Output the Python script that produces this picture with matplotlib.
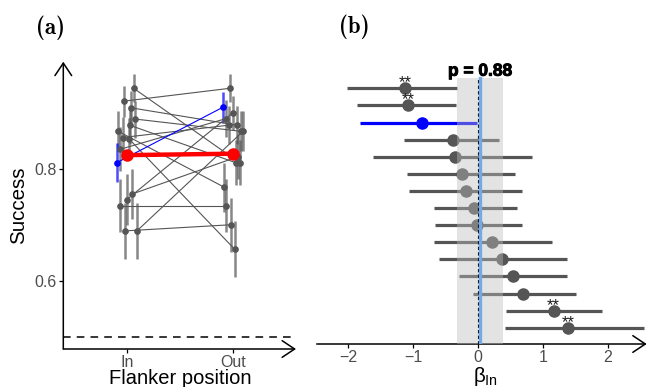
import matplotlib
matplotlib.use('Agg')
import matplotlib.pyplot as plt
import matplotlib.patheffects as pe

plt.rcParams['font.family'] = ['Liberation Sans', 'DejaVu Sans']
plt.rcParams['mathtext.fontset'] = 'custom'
plt.rcParams['mathtext.rm'] = 'Liberation Sans'

# (a) success per participant, In vs Out flanker position
IN_SUCCESS = [0.944, 0.921, 0.909, 0.889, 0.878, 0.867, 0.856, 0.854, 0.835, 0.811, 0.755, 0.745, 0.734, 0.689, 0.689]
OUT_SUCCESS = [0.811, 0.944, 0.878, 0.867, 0.811, 0.767, 0.878, 0.656, 0.890, 0.910, 0.822, 0.900, 0.734, 0.700, 0.867]
IN_ERR = [0.025, 0.028, 0.030, 0.033, 0.034, 0.036, 0.037, 0.037, 0.039, 0.035, 0.045, 0.046, 0.047, 0.050, 0.050]
OUT_ERR = [0.040, 0.025, 0.034, 0.036, 0.040, 0.044, 0.034, 0.050, 0.033, 0.028, 0.040, 0.030, 0.047, 0.048, 0.036]
DODGE = [0.063, -0.031, 0.041, 0.078, 0.025, -0.082, -0.041, 0.016, -0.063, -0.097, 0.050, -0.003, -0.069, -0.016, 0.094]
HIGHLIGHT = 9  # participant drawn in blue
MEAN_SUCCESS = [0.8245, 0.827]
POSITIONS = ['In', 'Out']
CHANCE = 0.5

# (b) beta_In per participant (sorted), 95% CI
BETA = [-1.13, -1.08, -0.87, -0.39, -0.36, -0.25, -0.19, -0.06, -0.02, 0.21, 0.36, 0.53, 0.69, 1.16, 1.39]
BETA_LO = [-2.02, -1.87, -1.82, -1.14, -1.62, -1.10, -1.07, -0.69, -0.66, -0.69, -0.60, -0.29, -0.08, 0.43, 0.41]
BETA_HI = [-0.33, -0.34, -0.02, 0.32, 0.82, 0.56, 0.68, 0.59, 0.67, 1.13, 1.36, 1.37, 1.50, 1.91, 2.55]
SIGNIF = [True, True, False, False, False, False, False, False, False, False, False, False, False, True, True]
BETA_HIGHLIGHT = 2
GROUP_MEAN = 0.03
GROUP_CI = (-0.33, 0.38)
P_TEXT = 'p = 0.88'

W, H = 647, 387
GREY = '#555555'
TICK_COL = '#4D4D4D'


def box(l, t, r, b):
    return [l / W, 1 - b / H, (r - l) / W, (b - t) / H]


def arrow_axes(ax, vertical=True):
    style = '->,head_length=0.45,head_width=0.3'
    kw = dict(xycoords='axes fraction', textcoords='axes fraction',
              arrowprops=dict(arrowstyle=style, lw=1.1, color='black',
                              shrinkA=0, shrinkB=0, mutation_scale=20))
    ax.annotate('', xy=(1, 0), xytext=(0, 0), **kw)
    if vertical:
        ax.annotate('', xy=(0, 1), xytext=(0, 0), **kw)


fig = plt.figure(figsize=(W / 100, H / 100), dpi=100)

# ---------- panel (a)
ax = fig.add_axes(box(63.3, 61.7, 296, 349))
for i in range(len(IN_SUCCESS)):
    col = 'blue' if i == HIGHLIGHT else GREY
    xs = [1 + DODGE[i], 2 + DODGE[i]]
    ys = [IN_SUCCESS[i], OUT_SUCCESS[i]]
    ax.errorbar(xs, ys, yerr=[IN_ERR[i], OUT_ERR[i]], fmt='none',
                ecolor=col, elinewidth=1.8, alpha=0.7, zorder=2)
    ax.plot(xs, ys, color=col, lw=0.8, marker='o', ms=3.8, zorder=3 + (i == HIGHLIGHT))
ax.plot([1, 2], MEAN_SUCCESS, color='red', lw=3.2, marker='o', ms=8, zorder=6)
ax.axhline(CHANCE, color='black', lw=1.1, ls=(0, (5, 4)))
ax.set_xlim(0.399, 2.594)
ax.set_ylim(0.4777, 0.9916)
ax.set_xticks([1, 2])
ax.set_xticklabels(POSITIONS)
ax.set_yticks([0.6, 0.8])
ax.set_yticklabels(['0.6', '0.8'])
ax.tick_params(labelsize=11.5, labelcolor=TICK_COL, length=3, width=0.9, pad=2)
ax.tick_params(axis='x', pad=1.5)
for s in ax.spines.values():
    s.set_visible(False)
arrow_axes(ax)

fig.text(19 / W, 1 - 205.5 / H, 'Success', rotation=90, ha='center', va='center', fontsize=14.8)
fig.text(180 / W, 1 - 384 / H, 'Flanker position', ha='center', va='baseline', fontsize=14.5)
fig.text(51 / W, 1 - 28 / H, '(a)', ha='center', va='center', fontsize=16.5,
         family='cmb10')

# ---------- panel (b)
bx = fig.add_axes(box(316.7, 54, 646.7, 344))
n = len(BETA)
rows = [n - i for i in range(n)]
for i in range(n):
    col = 'blue' if i == BETA_HIGHLIGHT else GREY
    bx.plot([BETA_LO[i], BETA_HI[i]], [rows[i], rows[i]], color=col, lw=2.3,
            solid_capstyle='butt', zorder=2)
    bx.plot(BETA[i], rows[i], 'o', color=col, ms=8, zorder=3)
    if SIGNIF[i]:
        bx.text(BETA[i], rows[i] + 0.32, '**', ha='center', va='center',
                fontsize=12, color='#1A1A1A', zorder=7)
band_top = n + 0.6
bx.fill_between(GROUP_CI, 0.047, band_top, color='#BEBEBE', alpha=0.42,
                lw=0, zorder=4)
bx.plot([0, 0], [0.047, band_top], color='black', lw=0.8, ls=(0, (3, 2)), zorder=5)
bx.plot([GROUP_MEAN, GROUP_MEAN], [0.047, band_top], color='#74A9E3', lw=2.4, zorder=6)
bx.text(GROUP_MEAN, n + 1.0, P_TEXT, ha='center', va='center', fontsize=12.5,
        fontweight='bold', zorder=7,
        path_effects=[pe.withStroke(linewidth=0.7, foreground='black')])
bx.set_xlim(-2.49, 2.595)
bx.set_ylim(0.047, 17.006)
bx.set_xticks([-2, -1, 0, 1, 2])
bx.set_yticks([])
bx.tick_params(labelsize=11.5, labelcolor=TICK_COL, length=3, width=0.9, pad=1.5)
for s in bx.spines.values():
    s.set_visible(False)
arrow_axes(bx, vertical=False)

fig.text(486 / W, 1 - 382 / H, r'$\mathrm{\beta_{In}}$', ha='center', va='baseline',
         fontsize=14.8)
fig.text(354 / W, 1 - 27 / H, '(b)', ha='center', va='center', fontsize=16.5,
         family='cmb10')

fig.savefig('out.png', dpi=100)
